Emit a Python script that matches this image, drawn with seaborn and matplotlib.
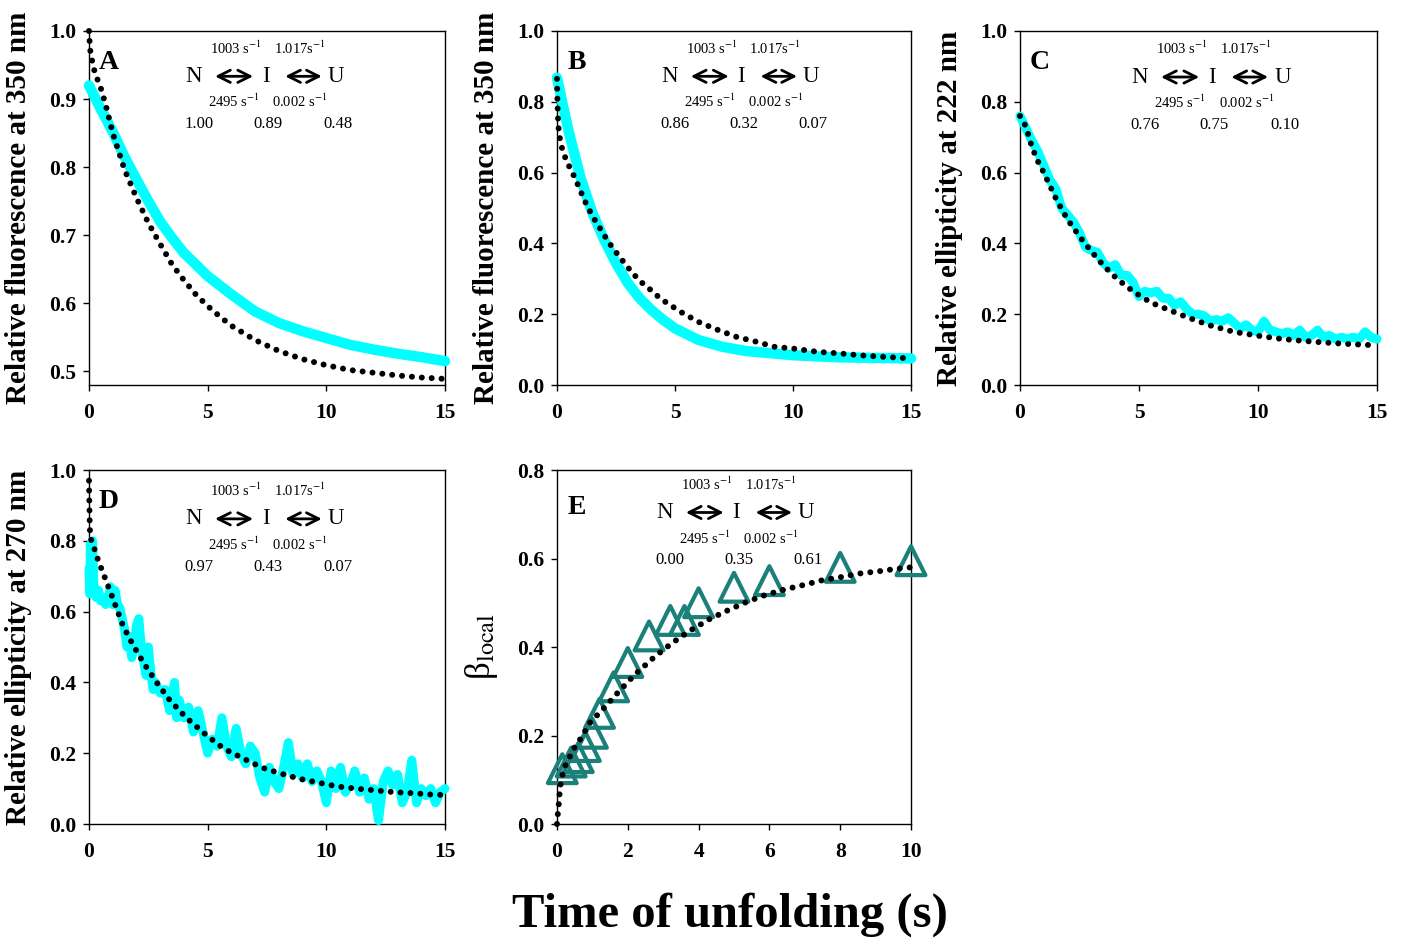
import numpy as np
import pandas as pd
import matplotlib
matplotlib.use("Agg")
import matplotlib.pyplot as plt
import seaborn as sns

# ---------------- data ----------------
# Panel A
tA_obs = [0, 0.5, 1, 1.5, 2, 2.5, 3, 3.5, 4, 5, 6, 7, 8, 9, 10, 11, 12, 13, 14, 15]
vA_obs = [0.92, 0.885, 0.852, 0.815, 0.782, 0.75, 0.72, 0.696, 0.674, 0.64, 0.613, 0.588,
          0.571, 0.559, 0.549, 0.539, 0.532, 0.526, 0.521, 0.515]
tA_fit = [0, 0.02, 0.05, 0.18, 0.31, 0.49, 0.7, 1.0, 1.5, 2.0, 2.5, 3.0, 3.5, 4.0, 4.5, 5.0,
          5.5, 6.0, 7.0, 8.0, 9.0, 10.0, 11.0, 12.0, 13.0, 14.0, 15.0]
vA_fit = [1.0, 0.988, 0.972, 0.947, 0.933, 0.917, 0.892, 0.85, 0.796, 0.755, 0.718, 0.687,
          0.657, 0.634, 0.613, 0.596, 0.581, 0.567, 0.546, 0.53, 0.518, 0.509, 0.502, 0.498,
          0.494, 0.491, 0.489]

# Panel B
tB_obs = [0, 0.25, 0.5, 0.75, 1, 1.5, 2, 2.5, 3, 3.5, 4, 4.5, 5, 6, 7, 8, 9, 10, 11, 12, 13, 14, 15]
vB_obs = [0.868, 0.79, 0.715, 0.65, 0.585, 0.486, 0.41, 0.344, 0.288, 0.245, 0.212, 0.184,
          0.16, 0.127, 0.108, 0.096, 0.09, 0.084, 0.081, 0.078, 0.077, 0.076, 0.075]
tB_fit = [0, 0.01, 0.02, 0.035, 0.05, 0.08, 0.15, 0.25, 0.42, 0.6, 0.79, 0.96, 1.14, 1.34,
          1.55, 1.8, 2.03, 2.3, 2.58, 2.89, 3.2, 3.58, 4.0, 4.4, 4.8, 5.2, 5.6, 6.0, 6.8,
          7.6, 8.4, 9.2, 10.0, 11.0, 12.0, 13.0, 14.0, 15.0]
vB_fit = [0.865, 0.83, 0.8, 0.77, 0.74, 0.715, 0.685, 0.66, 0.63, 0.607, 0.58, 0.554, 0.525,
          0.498, 0.472, 0.445, 0.42, 0.393, 0.368, 0.342, 0.316, 0.29, 0.267, 0.243, 0.226,
          0.208, 0.193, 0.178, 0.156, 0.136, 0.123, 0.108, 0.103, 0.094, 0.089, 0.083,
          0.079, 0.075]

# Panel C
tC_obs = [0, 0.25, 0.5, 0.75, 1.0, 1.25, 1.5, 1.75, 2.0, 2.25, 2.5, 2.75, 3.0, 3.25, 3.5,
          3.75, 4.0, 4.25, 4.5, 4.75, 5.0, 5.25, 5.5, 5.75, 6.0, 6.25, 6.5, 6.75, 7.0, 7.25,
          7.5, 7.75, 8.0, 8.25, 8.5, 8.75, 9.0, 9.25, 9.5, 9.75, 10.0, 10.25, 10.5, 10.75,
          11.0, 11.25, 11.5, 11.75, 12.0, 12.25, 12.5, 12.75, 13.0, 13.25, 13.5, 13.75,
          14.0, 14.25, 14.5, 14.75, 15.0]
vC_obs = [0.76, 0.725, 0.69, 0.66, 0.62, 0.58, 0.555, 0.5, 0.48, 0.46, 0.43, 0.39, 0.38,
          0.375, 0.345, 0.33, 0.34, 0.31, 0.31, 0.29, 0.25, 0.265, 0.26, 0.265, 0.245,
          0.245, 0.225, 0.235, 0.215, 0.2, 0.2, 0.195, 0.18, 0.185, 0.18, 0.19, 0.175,
          0.16, 0.17, 0.155, 0.15, 0.18, 0.155, 0.15, 0.145, 0.15, 0.14, 0.155, 0.135,
          0.14, 0.155, 0.135, 0.14, 0.13, 0.135, 0.13, 0.135, 0.13, 0.15, 0.135, 0.13]
tC_fit = [0, 0.25, 0.5, 0.75, 1, 1.5, 2, 2.5, 3, 3.5, 4, 4.5, 5, 5.5, 6, 7, 8, 9, 10, 11,
          12, 13, 14, 15]
vC_fit = [0.76, 0.73, 0.672, 0.632, 0.6, 0.528, 0.467, 0.42, 0.377, 0.338, 0.305, 0.277,
          0.254, 0.233, 0.219, 0.192, 0.168, 0.15, 0.139, 0.13, 0.124, 0.119, 0.115, 0.112]

# Panel D
tD_obs = [0, 0.03, 0.06, 0.1, 0.15, 0.2, 0.3, 0.4, 0.5, 0.6, 0.7, 0.8, 0.9, 1.0, 1.1, 1.2,
          1.3, 1.4, 1.5, 1.6, 1.7, 1.8, 1.9, 2.0, 2.1, 2.2, 2.3, 2.4, 2.5, 2.6, 2.7, 2.8,
          3.0, 3.2, 3.4, 3.6, 3.7, 3.8, 4.0, 4.2, 4.4, 4.6, 4.8, 5.0, 5.2, 5.4, 5.6, 5.8,
          6.0, 6.2, 6.4, 6.6, 6.8, 7.0, 7.2, 7.4, 7.6, 7.8, 8.0, 8.2, 8.4, 8.6, 8.8, 9.0,
          9.2, 9.4, 9.6, 9.8, 10.0, 10.2, 10.4, 10.6, 10.8, 11.0, 11.2, 11.4, 11.6, 11.8,
          12.0, 12.2, 12.4, 12.6, 12.8, 13.0, 13.2, 13.4, 13.6, 13.8, 14.0, 14.2, 14.4,
          14.6, 14.8, 15.0]
vD_obs = [0.72, 0.65, 0.79, 0.66, 0.8, 0.68, 0.64, 0.66, 0.63, 0.64, 0.62, 0.63, 0.67, 0.62,
          0.66, 0.62, 0.61, 0.58, 0.55, 0.5, 0.53, 0.47, 0.5, 0.56, 0.58, 0.5, 0.46, 0.42,
          0.5, 0.43, 0.38, 0.4, 0.37, 0.38, 0.32, 0.4, 0.3, 0.35, 0.3, 0.33, 0.26, 0.32,
          0.26, 0.2, 0.24, 0.22, 0.3, 0.22, 0.19, 0.27, 0.2, 0.17, 0.22, 0.2, 0.13, 0.09,
          0.16, 0.12, 0.1, 0.16, 0.23, 0.14, 0.17, 0.13, 0.17, 0.12, 0.15, 0.12, 0.06,
          0.15, 0.1, 0.16, 0.09, 0.11, 0.15, 0.09, 0.13, 0.07, 0.1, 0.01, 0.12, 0.15, 0.11,
          0.14, 0.06, 0.09, 0.18, 0.06, 0.1, 0.08, 0.1, 0.06, 0.09, 0.1]
tD_fit = [0, 0.01, 0.02, 0.03, 0.05, 0.18, 0.38, 0.68, 0.99, 1.44, 1.86, 2.3, 2.85, 3.41,
          4.12, 4.91, 5.68, 6.5, 7.3, 8.1, 8.86, 9.66, 10.47, 11.25, 12.06, 12.85, 13.68,
          14.46, 15]
vD_fit = [0.97, 0.93, 0.89, 0.85, 0.81, 0.787, 0.746, 0.694, 0.64, 0.559, 0.505, 0.455,
          0.4, 0.349, 0.299, 0.253, 0.213, 0.185, 0.159, 0.142, 0.128, 0.117, 0.106, 0.1,
          0.095, 0.09, 0.087, 0.083, 0.082]

# Panel E
tE_obs = [0.15, 0.4, 0.6, 0.8, 1.0, 1.2, 1.6, 2.0, 2.6, 3.2, 3.6, 4.0, 5.0, 6.0, 8.0, 10.0]
vE_obs = [0.125, 0.14, 0.15, 0.175, 0.205, 0.25, 0.31, 0.365, 0.425, 0.46, 0.46, 0.5,
          0.535, 0.55, 0.58, 0.595]
tE_fit = [0, 0.02, 0.05, 0.09, 0.14, 0.21, 0.33, 0.47, 0.66, 0.94, 1.27, 1.72, 2.19, 2.73,
          3.25, 3.78, 4.31, 4.83, 5.36, 5.9, 6.43, 6.96, 7.5, 8.02, 8.54, 9.08, 9.61, 10.0]
vE_fit = [0, 0.02, 0.045, 0.085, 0.106, 0.128, 0.147, 0.17, 0.192, 0.23, 0.257, 0.297,
          0.337, 0.376, 0.409, 0.438, 0.463, 0.483, 0.502, 0.518, 0.53, 0.54, 0.551,
          0.558, 0.566, 0.571, 0.577, 0.58]

# Text
panel_letters = ["A", "B", "C", "D", "E"]
ylabels = ["Relative fluorescence at 350 nm", "Relative fluorescence at 350 nm",
           "Relative ellipticity at 222 nm", "Relative ellipticity at 270 nm",
           r"β$_{\mathrm{local}}$"]
rates_top = ["1003 s$^{-1}$", "1.017s$^{-1}$"]
rates_bottom = ["2495 s$^{-1}$", "0.002 s$^{-1}$"]
state_names = ["N", "I", "U"]
fractions = [["1.00", "0.89", "0.48"], ["0.86", "0.32", "0.07"], ["0.76", "0.75", "0.10"],
             ["0.97", "0.43", "0.07"], ["0.00", "0.35", "0.61"]]
xlabel = "Time of unfolding (s)"

# ---------------- style ----------------
sns.set_theme(style="ticks")
plt.rcParams["font.family"] = ["Liberation Serif", "DejaVu Serif"]
plt.rcParams["mathtext.fontset"] = "stix"
plt.rcParams["axes.linewidth"] = 1.0
plt.rcParams["axes.edgecolor"] = "black"
for key in ["text.color", "axes.labelcolor", "xtick.color", "ytick.color"]:
    plt.rcParams[key] = "black"

CYAN = "#00FFFF"
TEAL = "#1B7F7A"

fig = plt.figure(figsize=(14.04, 9.47), dpi=100)
W, H = 1404, 947
def add_ax(l, t, r, b):
    return fig.add_axes([l / W, 1 - b / H, (r - l) / W, (b - t) / H])

axA = add_ax(89, 31, 445, 385)
axB = add_ax(557, 31, 911, 385)
axC = add_ax(1020, 31, 1377, 385)
axD = add_ax(89, 470, 445, 824)
axE = add_ax(557, 470, 911, 824)
axes = [axA, axB, axC, axD, axE]

dot_style = dict(color="black", lw=4.3, linestyle=(0, (0.01, 1.65)),
                 dash_capstyle="round", estimator=None, sort=False, zorder=5)

obs = [(tA_obs, vA_obs), (tB_obs, vB_obs), (tC_obs, vC_obs), (tD_obs, vD_obs)]
fits = [(tA_fit, vA_fit), (tB_fit, vB_fit), (tC_fit, vC_fit), (tD_fit, vD_fit), (tE_fit, vE_fit)]

for i, ax in enumerate(axes[:4]):
    t, v = obs[i]
    lw = 7.5 if i < 2 else 6.5
    sns.lineplot(x=t, y=v, ax=ax, color=CYAN, lw=lw, estimator=None, sort=False,
                 solid_capstyle="round", solid_joinstyle="round", zorder=3)

sns.scatterplot(x=tE_obs, y=vE_obs, ax=axE, marker="^", s=430, facecolors="none",
                edgecolor=TEAL, linewidth=3.0, zorder=3, clip_on=False)

for i, ax in enumerate(axes):
    t, v = fits[i]
    sns.lineplot(x=t, y=v, ax=ax, **dot_style)
    for ln in ax.get_lines():
        ln.set_clip_on(False)

# axes limits and ticks
for ax in axes[:4]:
    ax.set_xlim(0, 15)
    ax.set_xticks([0, 5, 10, 15])
axA.set_ylim(0.48, 1.0)
axA.set_yticks([0.5, 0.6, 0.7, 0.8, 0.9, 1.0])
for ax in [axB, axC, axD]:
    ax.set_ylim(0, 1.0)
    ax.set_yticks([0, 0.2, 0.4, 0.6, 0.8, 1.0])
axE.set_xlim(0, 10)
axE.set_xticks([0, 2, 4, 6, 8, 10])
axE.set_ylim(0, 0.8)
axE.set_yticks([0, 0.2, 0.4, 0.6, 0.8])

label_x = [-0.16, -0.161, -0.16, -0.16, -0.16]
scheme_x0 = [0.295, 0.319, 0.336, 0.295, 0.305]
scheme_y0 = [0.872, 0.872, 0.87, 0.862, 0.88]

for i, ax in enumerate(axes):
    for s in ax.spines.values():
        s.set_visible(True)
        s.set_linewidth(1.0)
        s.set_color("black")
    ax.tick_params(direction="out", length=4.3, width=1, labelsize=15.5,
                   colors="black", top=False, right=False)
    ax.tick_params(axis="x", pad=9)
    ax.tick_params(axis="y", pad=5)
    ax.xaxis.set_major_formatter(matplotlib.ticker.FormatStrFormatter("%d"))
    ax.yaxis.set_major_formatter(matplotlib.ticker.FormatStrFormatter("%.1f"))
    for lab in ax.get_xticklabels() + ax.get_yticklabels():
        lab.set_fontweight("bold")
    ax.set_xlabel("")
    if i < 4:
        ax.set_ylabel(ylabels[i], fontsize=21, fontweight="bold")
    else:
        ax.set_ylabel(ylabels[i], fontsize=25)
    ax.yaxis.set_label_coords(label_x[i], 0.5)
    ax.set_facecolor("white")

    # panel letter
    ax.text(0.055, 0.91 if i != 4 else 0.895, panel_letters[i], transform=ax.transAxes,
            fontsize=20, fontweight="bold", ha="center", va="center", zorder=6)

    # kinetic scheme
    x0, y0 = scheme_x0[i], scheme_y0[i]
    tr = ax.transAxes
    for name, dx in zip(state_names, [0.0, 0.202, 0.399]):
        ax.text(x0 + dx, y0, name, transform=tr, fontsize=16.5, ha="center", va="center")
    for a0, a1 in [(0.059, 0.166), (0.256, 0.359)]:
        ax.annotate("", xy=(x0 + a1, y0), xytext=(x0 + a0, y0), xycoords="axes fraction",
                    textcoords="axes fraction",
                    arrowprops=dict(arrowstyle="<->", lw=2.0, color="black",
                                    mutation_scale=22, shrinkA=0, shrinkB=0))
    for txt, dx in zip(rates_top, [0.118, 0.298]):
        ax.text(x0 + dx, y0 + 0.08, txt, transform=tr, fontsize=10.5, ha="center", va="center")
    for txt, dx in zip(rates_bottom, [0.113, 0.298]):
        ax.text(x0 + dx, y0 - 0.072, txt, transform=tr, fontsize=10.5, ha="center", va="center")
    for txt, dx in zip(fractions[i], [0.014, 0.208, 0.405]):
        ax.text(x0 + dx, y0 - 0.135, txt, transform=tr, fontsize=12, ha="center", va="center")

fig.text(730 / W, 1 - 915 / H, xlabel, fontsize=35, fontweight="bold", ha="center", va="center")

fig.savefig("out.png", dpi=100, facecolor="white")
